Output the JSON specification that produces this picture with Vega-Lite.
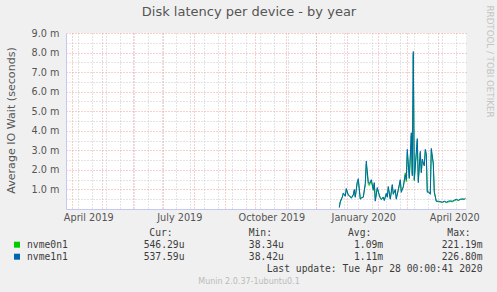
{
"$schema":"https://vega.github.io/schema/vega-lite/v6.json",
"width":400,"height":176,
"autosize":{"type":"none"},
"padding":{"left":66,"top":33,"right":31,"bottom":83},
"background":"#f0f0f0",
"title":{"text":"Disk latency per device - by year","fontSize":13,"fontWeight":"normal","color":"#555555","font":"DejaVu Sans","anchor":"middle","frame":"group","dx":-17,"offset":-20,"baseline":"middle"},
"datasets":{
"series":[
{"date":"2019/12/24","device":"nvme1n1","value":0.00008},{"date":"2019/12/25","device":"nvme1n1","value":0.00035},{"date":"2019/12/27","device":"nvme1n1","value":0.0006},{"date":"2019/12/28","device":"nvme1n1","value":0.00082},{"date":"2019/12/30","device":"nvme1n1","value":0.00065},{"date":"2019/12/31","device":"nvme1n1","value":0.00105},
{"date":"2020/01/02","device":"nvme1n1","value":0.0007},{"date":"2020/01/04","device":"nvme1n1","value":0.00065},{"date":"2020/01/05","device":"nvme1n1","value":0.00055},{"date":"2020/01/07","device":"nvme1n1","value":0.0007},{"date":"2020/01/08","device":"nvme1n1","value":0.001},{"date":"2020/01/09","device":"nvme1n1","value":0.0006},{"date":"2020/01/11","device":"nvme1n1","value":0.0014},{"date":"2020/01/12","device":"nvme1n1","value":0.00155},{"date":"2020/01/14","device":"nvme1n1","value":0.0005},{"date":"2020/01/15","device":"nvme1n1","value":0.00055},{"date":"2020/01/17","device":"nvme1n1","value":0.0006},{"date":"2020/01/19","device":"nvme1n1","value":0.0013},{"date":"2020/01/20","device":"nvme1n1","value":0.00245},{"date":"2020/01/22","device":"nvme1n1","value":0.0014},{"date":"2020/01/23","device":"nvme1n1","value":0.0013},{"date":"2020/01/25","device":"nvme1n1","value":0.0015},{"date":"2020/01/27","device":"nvme1n1","value":0.001},{"date":"2020/01/28","device":"nvme1n1","value":0.00135},{"date":"2020/01/29","device":"nvme1n1","value":0.0004},{"date":"2020/01/31","device":"nvme1n1","value":0.0011},
{"date":"2020/02/02","device":"nvme1n1","value":0.0007},{"date":"2020/02/03","device":"nvme1n1","value":0.00055},{"date":"2020/02/04","device":"nvme1n1","value":0.00048},{"date":"2020/02/06","device":"nvme1n1","value":0.0006},{"date":"2020/02/07","device":"nvme1n1","value":0.00043},{"date":"2020/02/09","device":"nvme1n1","value":0.0008},{"date":"2020/02/10","device":"nvme1n1","value":0.0006},{"date":"2020/02/11","device":"nvme1n1","value":0.00115},{"date":"2020/02/13","device":"nvme1n1","value":0.0005},{"date":"2020/02/15","device":"nvme1n1","value":0.00125},{"date":"2020/02/16","device":"nvme1n1","value":0.00075},{"date":"2020/02/18","device":"nvme1n1","value":0.001},{"date":"2020/02/19","device":"nvme1n1","value":0.0005},{"date":"2020/02/21","device":"nvme1n1","value":0.001},{"date":"2020/02/23","device":"nvme1n1","value":0.0015},{"date":"2020/02/24","device":"nvme1n1","value":0.00085},{"date":"2020/02/26","device":"nvme1n1","value":0.00115},{"date":"2020/02/28","device":"nvme1n1","value":0.00175},{"date":"2020/02/29","device":"nvme1n1","value":0.0015},
{"date":"2020/03/01","device":"nvme1n1","value":0.00305},{"date":"2020/03/03","device":"nvme1n1","value":0.0016},{"date":"2020/03/04","device":"nvme1n1","value":0.0027},{"date":"2020/03/05","device":"nvme1n1","value":0.0039},{"date":"2020/03/06","device":"nvme1n1","value":0.0017},{"date":"2020/03/07","device":"nvme1n1","value":0.00805},{"date":"2020/03/08","device":"nvme1n1","value":0.0015},{"date":"2020/03/10","device":"nvme1n1","value":0.0029},{"date":"2020/03/11","device":"nvme1n1","value":0.0036},{"date":"2020/03/12","device":"nvme1n1","value":0.00135},{"date":"2020/03/14","device":"nvme1n1","value":0.00295},{"date":"2020/03/15","device":"nvme1n1","value":0.00185},{"date":"2020/03/16","device":"nvme1n1","value":0.00255},{"date":"2020/03/18","device":"nvme1n1","value":0.0022},{"date":"2020/03/19","device":"nvme1n1","value":0.00305},{"date":"2020/03/20","device":"nvme1n1","value":0.00285},{"date":"2020/03/21","device":"nvme1n1","value":0.00085},{"date":"2020/03/22","device":"nvme1n1","value":0.0009},{"date":"2020/03/24","device":"nvme1n1","value":0.00075},{"date":"2020/03/25","device":"nvme1n1","value":0.0031},{"date":"2020/03/27","device":"nvme1n1","value":0.00235},{"date":"2020/03/28","device":"nvme1n1","value":0.00085},{"date":"2020/03/30","device":"nvme1n1","value":0.0004},
{"date":"2020/04/01","device":"nvme1n1","value":0.0004},{"date":"2020/04/03","device":"nvme1n1","value":0.00038},{"date":"2020/04/05","device":"nvme1n1","value":0.00035},{"date":"2020/04/07","device":"nvme1n1","value":0.0004},{"date":"2020/04/09","device":"nvme1n1","value":0.00035},{"date":"2020/04/11","device":"nvme1n1","value":0.0004},{"date":"2020/04/13","device":"nvme1n1","value":0.00042},{"date":"2020/04/15","device":"nvme1n1","value":0.0004},{"date":"2020/04/17","device":"nvme1n1","value":0.00045},{"date":"2020/04/19","device":"nvme1n1","value":0.0005},{"date":"2020/04/21","device":"nvme1n1","value":0.00045},{"date":"2020/04/23","device":"nvme1n1","value":0.0005},{"date":"2020/04/25","device":"nvme1n1","value":0.00052},{"date":"2020/04/27","device":"nvme1n1","value":0.0005},{"date":"2020/04/28","device":"nvme1n1","value":0.00054},
{"date":"2019/12/24","device":"nvme0n1","value":0.00008},{"date":"2019/12/25","device":"nvme0n1","value":0.0004},{"date":"2019/12/27","device":"nvme0n1","value":0.00062},{"date":"2019/12/28","device":"nvme0n1","value":0.00078},{"date":"2019/12/30","device":"nvme0n1","value":0.00068},{"date":"2019/12/31","device":"nvme0n1","value":0.001},
{"date":"2020/01/02","device":"nvme0n1","value":0.00072},{"date":"2020/01/04","device":"nvme0n1","value":0.00062},{"date":"2020/01/05","device":"nvme0n1","value":0.00058},{"date":"2020/01/07","device":"nvme0n1","value":0.00075},{"date":"2020/01/08","device":"nvme0n1","value":0.00095},{"date":"2020/01/09","device":"nvme0n1","value":0.00062},{"date":"2020/01/11","device":"nvme0n1","value":0.00135},{"date":"2020/01/12","device":"nvme0n1","value":0.00145},{"date":"2020/01/14","device":"nvme0n1","value":0.00052},{"date":"2020/01/15","device":"nvme0n1","value":0.00058},{"date":"2020/01/17","device":"nvme0n1","value":0.00062},{"date":"2020/01/19","device":"nvme0n1","value":0.00125},{"date":"2020/01/20","device":"nvme0n1","value":0.0023},{"date":"2020/01/22","device":"nvme0n1","value":0.00125},{"date":"2020/01/23","device":"nvme0n1","value":0.0012},{"date":"2020/01/25","device":"nvme0n1","value":0.00145},{"date":"2020/01/27","device":"nvme0n1","value":0.00095},{"date":"2020/01/28","device":"nvme0n1","value":0.0013},{"date":"2020/01/29","device":"nvme0n1","value":0.00045},{"date":"2020/01/31","device":"nvme0n1","value":0.00105},
{"date":"2020/02/02","device":"nvme0n1","value":0.00072},{"date":"2020/02/03","device":"nvme0n1","value":0.00058},{"date":"2020/02/04","device":"nvme0n1","value":0.0005},{"date":"2020/02/06","device":"nvme0n1","value":0.00062},{"date":"2020/02/07","device":"nvme0n1","value":0.00045},{"date":"2020/02/09","device":"nvme0n1","value":0.00078},{"date":"2020/02/10","device":"nvme0n1","value":0.00062},{"date":"2020/02/11","device":"nvme0n1","value":0.0011},{"date":"2020/02/13","device":"nvme0n1","value":0.00052},{"date":"2020/02/15","device":"nvme0n1","value":0.0012},{"date":"2020/02/16","device":"nvme0n1","value":0.00078},{"date":"2020/02/18","device":"nvme0n1","value":0.00095},{"date":"2020/02/19","device":"nvme0n1","value":0.00055},{"date":"2020/02/21","device":"nvme0n1","value":0.00095},{"date":"2020/02/23","device":"nvme0n1","value":0.00145},{"date":"2020/02/24","device":"nvme0n1","value":0.0009},{"date":"2020/02/26","device":"nvme0n1","value":0.0011},{"date":"2020/02/28","device":"nvme0n1","value":0.00185},{"date":"2020/02/29","device":"nvme0n1","value":0.0014},
{"date":"2020/03/01","device":"nvme0n1","value":0.0029},{"date":"2020/03/03","device":"nvme0n1","value":0.00155},{"date":"2020/03/04","device":"nvme0n1","value":0.0026},{"date":"2020/03/05","device":"nvme0n1","value":0.00375},{"date":"2020/03/06","device":"nvme0n1","value":0.0018},{"date":"2020/03/07","device":"nvme0n1","value":0.0079},{"date":"2020/03/08","device":"nvme0n1","value":0.00145},{"date":"2020/03/10","device":"nvme0n1","value":0.0028},{"date":"2020/03/11","device":"nvme0n1","value":0.0035},{"date":"2020/03/12","device":"nvme0n1","value":0.00145},{"date":"2020/03/14","device":"nvme0n1","value":0.00285},{"date":"2020/03/15","device":"nvme0n1","value":0.0019},{"date":"2020/03/16","device":"nvme0n1","value":0.00245},{"date":"2020/03/18","device":"nvme0n1","value":0.00225},{"date":"2020/03/19","device":"nvme0n1","value":0.00295},{"date":"2020/03/20","device":"nvme0n1","value":0.00275},{"date":"2020/03/21","device":"nvme0n1","value":0.0009},{"date":"2020/03/22","device":"nvme0n1","value":0.00085},{"date":"2020/03/24","device":"nvme0n1","value":0.0008},{"date":"2020/03/25","device":"nvme0n1","value":0.003},{"date":"2020/03/27","device":"nvme0n1","value":0.0023},{"date":"2020/03/28","device":"nvme0n1","value":0.0009},{"date":"2020/03/30","device":"nvme0n1","value":0.00038},
{"date":"2020/04/01","device":"nvme0n1","value":0.00038},{"date":"2020/04/03","device":"nvme0n1","value":0.00036},{"date":"2020/04/05","device":"nvme0n1","value":0.00033},{"date":"2020/04/07","device":"nvme0n1","value":0.00038},{"date":"2020/04/09","device":"nvme0n1","value":0.00033},{"date":"2020/04/11","device":"nvme0n1","value":0.00036},{"date":"2020/04/13","device":"nvme0n1","value":0.00038},{"date":"2020/04/15","device":"nvme0n1","value":0.00037},{"date":"2020/04/17","device":"nvme0n1","value":0.00042},{"date":"2020/04/19","device":"nvme0n1","value":0.00047},{"date":"2020/04/21","device":"nvme0n1","value":0.00043},{"date":"2020/04/23","device":"nvme0n1","value":0.00048},{"date":"2020/04/25","device":"nvme0n1","value":0.0005},{"date":"2020/04/27","device":"nvme0n1","value":0.00049},{"date":"2020/04/28","device":"nvme0n1","value":0.00055}
],
"names":[{"row":"nvme0n1","col":"name"},{"row":"nvme1n1","col":"name"}],
"headers":[{"row":"header","col":"Cur","text":"Cur:"},{"row":"header","col":"Min","text":"Min:"},{"row":"header","col":"Avg","text":"Avg:"},{"row":"header","col":"Max","text":"Max:"}],
"stats":[
{"row":"nvme0n1","col":"Cur","text":"546.29u"},{"row":"nvme0n1","col":"Min","text":"38.34u"},{"row":"nvme0n1","col":"Avg","text":"1.09m"},{"row":"nvme0n1","col":"Max","text":"221.19m"},
{"row":"nvme1n1","col":"Cur","text":"537.59u"},{"row":"nvme1n1","col":"Min","text":"38.42u"},{"row":"nvme1n1","col":"Avg","text":"1.11m"},{"row":"nvme1n1","col":"Max","text":"226.80m"},
{"row":"update","col":"Max","text":"Last update: Tue Apr 28 00:00:41 2020"}
]
},
"layer":[
{"data":{"name":"series"},"transform":[{"filter":"datum.device == 'nvme0n1'"}],
 "mark":{"type":"line","strokeWidth":1},
 "encoding":{
  "x":{"field":"date","type":"temporal","scale":{"domain":[{"year":2019,"month":3,"date":25,"hours":17},{"year":2020,"month":4,"date":28,"hours":17}]},
   "axis":{"orient":"bottom","title":null,"labels":false,"ticks":false,"domain":false,"grid":true,"gridColor":"#c8c8c8","gridDash":[1,2],"gridWidth":1,
    "values":[{"year":2019,"month":4,"date":7},{"year":2019,"month":4,"date":21},{"year":2019,"month":5,"date":5},{"year":2019,"month":5,"date":19},{"year":2019,"month":6,"date":2},{"year":2019,"month":6,"date":16},{"year":2019,"month":6,"date":30},{"year":2019,"month":7,"date":14},{"year":2019,"month":7,"date":28},{"year":2019,"month":8,"date":11},{"year":2019,"month":8,"date":25},{"year":2019,"month":9,"date":8},{"year":2019,"month":9,"date":22},{"year":2019,"month":10,"date":6},{"year":2019,"month":10,"date":20},{"year":2019,"month":11,"date":3},{"year":2019,"month":11,"date":17},{"year":2019,"month":12,"date":1},{"year":2019,"month":12,"date":15},{"year":2019,"month":12,"date":29},{"year":2020,"month":1,"date":12},{"year":2020,"month":1,"date":26},{"year":2020,"month":2,"date":9},{"year":2020,"month":2,"date":23},{"year":2020,"month":3,"date":8},{"year":2020,"month":3,"date":22},{"year":2020,"month":4,"date":5},{"year":2020,"month":4,"date":19}]}},
  "y":{"field":"value","type":"quantitative","scale":{"domain":[0,0.009],"nice":false,"zero":true},
   "axis":{"orient":"left","title":null,"labels":false,"ticks":false,"domain":false,"grid":true,"gridColor":"#c8c8c8","gridDash":[1,2],"gridWidth":1,
    "values":[0.0005,0.0015,0.0025,0.0035,0.0045,0.0055,0.0065,0.0075,0.0085]}},
  "color":{"field":"device","type":"nominal","scale":{"domain":["nvme0n1","nvme1n1"],"range":["#00cc00","#0066b3"]},"legend":null}
 }},
{"data":{"name":"series"},"transform":[{"filter":"datum.device == 'nvme1n1'"}],
 "mark":{"type":"line","strokeWidth":1},
 "encoding":{
  "x":{"field":"date","type":"temporal","scale":{"domain":[{"year":2019,"month":3,"date":25,"hours":17},{"year":2020,"month":4,"date":28,"hours":17}]},
   "axis":{"orient":"bottom","title":null,"ticks":false,"domain":true,"domainColor":"#c4c8f2","domainWidth":1,"grid":true,"gridColor":"#f0a0a0","gridDash":[1,2],"gridWidth":1,
    "labelExpr":"(month(datum.value) % 3 == 0) ? timeFormat(datum.value, '%B %Y') : ''","labelOffset":16,"labelPadding":3,"labelFlush":false,"labelOverlap":false,"labelBound":false,"labelFontSize":9.7,"labelColor":"#555555","labelFont":"DejaVu Sans",
    "values":[{"year":2019,"month":4,"date":1},{"year":2019,"month":5,"date":1},{"year":2019,"month":6,"date":1},{"year":2019,"month":7,"date":1},{"year":2019,"month":8,"date":1},{"year":2019,"month":9,"date":1},{"year":2019,"month":10,"date":1},{"year":2019,"month":11,"date":1},{"year":2019,"month":12,"date":1},{"year":2020,"month":1,"date":1},{"year":2020,"month":2,"date":1},{"year":2020,"month":3,"date":1},{"year":2020,"month":4,"date":1}]}},
  "y":{"field":"value","type":"quantitative","scale":{"domain":[0,0.009],"nice":false,"zero":true},
   "axis":{"orient":"left","ticks":false,"domain":true,"domainColor":"#c4c8f2","domainWidth":1,"grid":true,"gridColor":"#f0a0a0","gridDash":[1,2],"gridWidth":1,
    "values":[0.001,0.002,0.003,0.004,0.005,0.006,0.007,0.008,0.009],
    "labelExpr":"format(datum.value*1000, '.1f') + ' m'","labelPadding":7,"labelFontSize":9.7,"labelColor":"#555555","labelFont":"DejaVu Sans","labelOverlap":false,"labelFlush":false,
    "title":"Average IO Wait (seconds)","titleFontSize":11.1,"titleFontWeight":"normal","titleColor":"#555555","titleFont":"DejaVu Sans","titleX":-55,"titleY":87,"titleAngle":-90,"titleAlign":"center","titleBaseline":"middle"}},
  "color":{"field":"device","type":"nominal","scale":{"domain":["nvme0n1","nvme1n1"],"range":["#00cc00","#0066b3"]},"legend":null}
 }},
{"data":{"name":"names"},
 "mark":{"type":"square","size":36,"filled":true,"opacity":1,"xOffset":-44.7},
 "encoding":{
  "x":{"field":"col","type":"nominal","scale":{"type":"point","domain":["name","Cur","Min","Avg","Max"],"range":[-4.3,393],"padding":0},"axis":null},
  "y":{"field":"row","type":"nominal","scale":{"type":"point","domain":["header","nvme0n1","nvme1n1","update"],"range":[199.7,235.7],"padding":0},"axis":null},
  "color":{"field":"row","type":"nominal","scale":{"domain":["nvme0n1","nvme1n1"],"range":["#00cc00","#0066b3"]},"legend":null}
 }},
{"data":{"name":"names"},
 "mark":{"type":"text","align":"left","baseline":"middle","dx":-34.7,"font":"DejaVu Sans Mono","fontSize":9.7,"color":"#3c3c3c"},
 "encoding":{
  "x":{"field":"col","type":"nominal","scale":{"type":"point","domain":["name","Cur","Min","Avg","Max"],"range":[-4.3,393],"padding":0},
   "axis":{"orient":"bottom","title":"Munin 2.0.37-1ubuntu0.1","labels":false,"ticks":false,"domain":false,"grid":false,"titleX":182.5,"titleY":72,"titleAngle":0,"titleAlign":"center","titleBaseline":"middle","titleFontSize":8,"titleFontWeight":"normal","titleColor":"#bbbbbb","titleFont":"DejaVu Sans"}},
  "y":{"field":"row","type":"nominal","scale":{"type":"point","domain":["header","nvme0n1","nvme1n1","update"],"range":[199.7,235.7],"padding":0},
   "axis":{"orient":"right","title":"RRDTOOL / TOBI OETIKER","labels":false,"ticks":false,"domain":false,"grid":false,"titleX":23,"titleY":28,"titleAngle":90,"titleAlign":"center","titleBaseline":"middle","titleFontSize":8.7,"titleFontWeight":"normal","titleColor":"#c4c4c4","titleFont":"DejaVu Sans"}},
  "text":{"field":"row","type":"nominal"}
 }},
{"data":{"name":"headers"},
 "mark":{"type":"text","align":"center","baseline":"middle","font":"DejaVu Sans Mono","fontSize":9.7,"color":"#3c3c3c"},
 "encoding":{
  "x":{"field":"col","type":"nominal","scale":{"type":"point","domain":["name","Cur","Min","Avg","Max"],"range":[-4.3,393],"padding":0},"axis":null},
  "y":{"field":"row","type":"nominal","scale":{"type":"point","domain":["header","nvme0n1","nvme1n1","update"],"range":[199.7,235.7],"padding":0},"axis":null},
  "text":{"field":"text","type":"nominal"}
 }},
{"data":{"name":"stats"},
 "mark":{"type":"text","align":"right","baseline":"middle","dx":23.5,"font":"DejaVu Sans Mono","fontSize":9.7,"color":"#3c3c3c"},
 "encoding":{
  "x":{"field":"col","type":"nominal","scale":{"type":"point","domain":["name","Cur","Min","Avg","Max"],"range":[-4.3,393],"padding":0},"axis":null},
  "y":{"field":"row","type":"nominal","scale":{"type":"point","domain":["header","nvme0n1","nvme1n1","update"],"range":[199.7,235.7],"padding":0},"axis":null},
  "text":{"field":"text","type":"nominal"}
 }}
],
"resolve":{"scale":{"x":"independent","y":"independent"},"axis":{"x":"independent","y":"independent"}},
"config":{"view":{"fill":"#ffffff","stroke":null},"font":"DejaVu Sans"}
}
